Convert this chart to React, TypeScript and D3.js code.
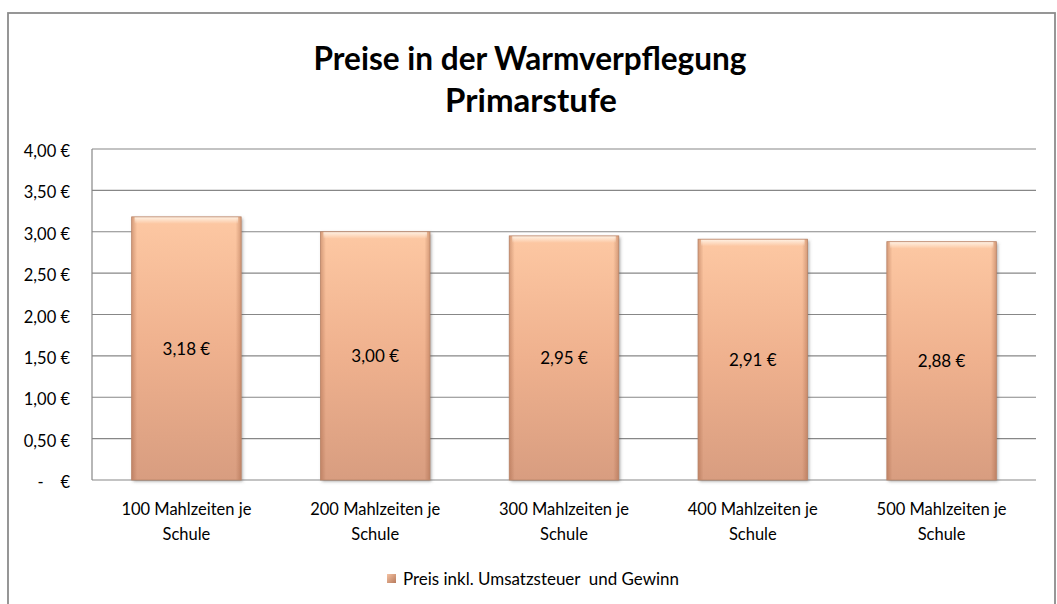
import React from "react";
import * as d3 from "d3";

const categories: string[][] = [
  ["100 Mahlzeiten je", "Schule"],
  ["200 Mahlzeiten je", "Schule"],
  ["300 Mahlzeiten je", "Schule"],
  ["400 Mahlzeiten je", "Schule"],
  ["500 Mahlzeiten je", "Schule"],
];
const values: number[] = [3.18, 3.0, 2.95, 2.91, 2.88];
const yTicks: number[] = [0, 0.5, 1, 1.5, 2, 2.5, 3, 3.5, 4];
const titleLines: string[] = ["Preise in der Warmverpflegung", "Primarstufe"];
const legendLabel = "Preis inkl. Umsatzsteuer  und Gewinn";

const W = 1057;
const H = 604;
const FONT = "Lato, 'Open Sans', sans-serif";

const fmt = (v: number) =>
  v === 0 ? "-    €" : v.toFixed(2).replace(".", ",") + " €";

export default function App() {
  const x = d3
    .scaleBand<number>()
    .domain(values.map((_, i) => i))
    .range([92, 1036])
    .paddingInner(0.42)
    .paddingOuter(0.21);
  const y = d3.scaleLinear().domain([0, 4]).range([480, 149]);

  const titleLen: (number | undefined)[] = [433, undefined];
  const titleX = [530, 531];

  return (
    <svg
      width={W}
      height={H}
      style={{ position: "absolute", left: 0, top: 0, fontFamily: FONT }}
    >
      <defs>
        <linearGradient id="barV" x1="0" y1="0" x2="0" y2="1">
          <stop offset="0" stopColor="#fdc8a3" />
          <stop offset="0.5" stopColor="#efb18e" />
          <stop offset="1" stopColor="#d89d80" />
        </linearGradient>
        <linearGradient id="barH" x1="0" y1="0" x2="1" y2="0">
          <stop offset="0" stopColor="#9a5a3c" stopOpacity="0.4" />
          <stop offset="0.05" stopColor="#9a5a3c" stopOpacity="0" />
          <stop offset="0.95" stopColor="#9a5a3c" stopOpacity="0" />
          <stop offset="1" stopColor="#9a5a3c" stopOpacity="0.4" />
        </linearGradient>
        <linearGradient id="barTop" x1="0" y1="0" x2="0" y2="1">
          <stop offset="0" stopColor="#fff4e8" stopOpacity="0.95" />
          <stop offset="1" stopColor="#fff4e8" stopOpacity="0" />
        </linearGradient>
        <linearGradient id="legSw" x1="0" y1="0" x2="1" y2="1">
          <stop offset="0" stopColor="#f5c2a2" />
          <stop offset="1" stopColor="#b77a5c" />
        </linearGradient>
        <filter id="shadow" x="-10%" y="-10%" width="120%" height="120%">
          <feDropShadow dx="1.5" dy="1.5" stdDeviation="1.5" floodColor="#555" floodOpacity="0.5" />
        </filter>
      </defs>

      {/* outer frame */}
      <rect x={8} y={13} width={1047} height={H} fill="#fff" stroke="#8c8c8c" strokeWidth={1.8} />

      {/* title */}
      {titleLines.map((t, i) => (
        <text
          key={t}
          x={titleX[i]}
          y={70 + i * 42}
          textAnchor="middle"
          fontSize={33}
          fontWeight="bold"
          fill="#000"
          textLength={titleLen[i]}
          lengthAdjust={titleLen[i] ? "spacingAndGlyphs" : undefined}
        >
          {t}
        </text>
      ))}

      {/* grid */}
      {yTicks.map((t) => (
        <line
          key={"g" + t}
          x1={92}
          x2={1036}
          y1={y(t)}
          y2={y(t)}
          stroke="#878787"
          strokeWidth={1.2}
        />
      ))}
      <line x1={92} x2={92} y1={y(4)} y2={y(0)} stroke="#878787" strokeWidth={1.2} />

      {/* y labels */}
      {yTicks.map((t) => (
        <text
          key={"l" + t}
          x={70}
          y={y(t) + 2}
          textAnchor="end"
          dominantBaseline="central"
          fontSize={16.5}
          fill="#000"
          style={{ whiteSpace: "pre" }}
        >
          {fmt(t)}
        </text>
      ))}

      {/* bars */}
      {values.map((v, i) => {
        const bx = x(i)!;
        const bw = x.bandwidth();
        const by = y(v);
        const bh = y(0) - y(v);
        return (
          <g key={"b" + i}>
            <rect x={bx} y={by} width={bw} height={bh} fill="url(#barV)" filter="url(#shadow)" />
            <rect x={bx} y={by} width={bw} height={bh} fill="url(#barH)" />
            <rect x={bx + 3} y={by} width={bw - 6} height={7} fill="url(#barTop)" />
            <rect x={bx} y={by} width={bw} height={bh} fill="none" stroke="#b98468" strokeWidth={0.8} />
            <text
              x={bx + bw / 2}
              y={(by + y(0)) / 2}
              textAnchor="middle"
              dominantBaseline="central"
              fontSize={17}
              fill="#000"
            >
              {fmt(v)}
            </text>
          </g>
        );
      })}

      {/* category labels */}
      {categories.map((lines, i) => (
        <text
          key={"c" + i}
          x={x(i)! + x.bandwidth() / 2}
          textAnchor="middle"
          fontSize={16.5}
          fill="#000"
        >
          {lines.map((l, j) => (
            <tspan key={j} x={x(i)! + x.bandwidth() / 2} y={515 + j * 25}>
              {l}
            </tspan>
          ))}
        </text>
      ))}

      {/* legend */}
      <rect x={387} y={574} width={9} height={9} fill="url(#legSw)" />
      <text
        x={403}
        y={585}
        fontSize={17}
        fill="#000"
        style={{ whiteSpace: "pre" }}
        textLength={276}
        lengthAdjust="spacingAndGlyphs"
      >
        {legendLabel}
      </text>
    </svg>
  );
}
